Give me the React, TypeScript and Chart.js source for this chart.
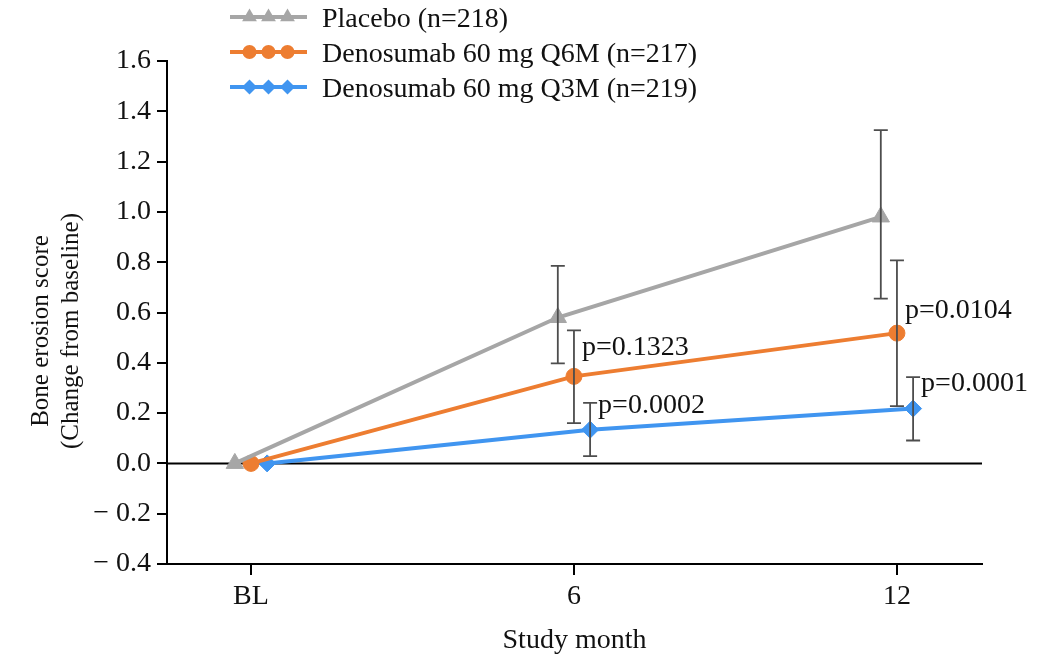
import React, { useEffect, useRef } from 'react';
import { Chart, registerables } from 'chart.js';
Chart.register(...registerables);

// ---- data ----
const months = [0, 6, 12];
const monthLabels = ['BL', '6', '12'];
const seriesNames = ['Placebo (n=218)', 'Denosumab 60 mg Q6M (n=217)', 'Denosumab 60 mg Q3M (n=219)'];

const placeboMean = [0, 0.58, 0.98];
const placeboUpper = [null, 0.785, 1.325];
const placeboLower = [null, 0.398, 0.655];

const q6mMean = [0, 0.346, 0.518];
const q6mUpper = [null, 0.529, 0.807];
const q6mLower = [null, 0.16, 0.228];

const q3mMean = [0, 0.134, 0.218];
const q3mUpper = [null, 0.241, 0.343];
const q3mLower = [null, 0.029, 0.091];

const q6mPLabels = [null, 'p=0.1323', 'p=0.0104'];
const q6mPLabelY = [null, 0.461, 0.609];
const q3mPLabels = [null, 'p=0.0002', 'p=0.0001'];
const q3mPLabelY = [null, 0.231, 0.318];

const yTicks = [-0.4, -0.2, 0, 0.2, 0.4, 0.6, 0.8, 1.0, 1.2, 1.4, 1.6];
const yTitleLines = ['Bone erosion score', '(Change from baseline)'];
const xTitle = 'Study month';

// ---- style ----
const FONT = '"Liberation Serif", "Times New Roman", serif';
const GRAY = '#a6a6a6';
const ORANGE = '#ed7d31';
const BLUE = '#4095f0';
const ERR = '#4d4d4d';
const JITTER = 0.3; // horizontal dodge, in months

type Series = {
  name: string; color: string; style: any; radius: number; legendR: number; dodge: number;
  mean: number[]; upper: (number | null)[]; lower: (number | null)[];
  pLabels?: (string | null)[]; pY?: (number | null)[];
};

const series: Series[] = [
  { name: seriesNames[0], color: GRAY, style: 'triangle', radius: 10, legendR: 8.5, dodge: -JITTER, mean: placeboMean, upper: placeboUpper, lower: placeboLower },
  { name: seriesNames[1], color: ORANGE, style: 'circle', radius: 8, legendR: 7, dodge: 0, mean: q6mMean, upper: q6mUpper, lower: q6mLower, pLabels: q6mPLabels, pY: q6mPLabelY },
  { name: seriesNames[2], color: BLUE, style: 'rectRot', radius: 8.5, legendR: 7.5, dodge: JITTER, mean: q3mMean, upper: q3mUpper, lower: q3mLower, pLabels: q3mPLabels, pY: q3mPLabelY },
];

const zeroLinePlugin = {
  id: 'zeroLine',
  beforeDatasetsDraw(chart: any) {
    const { ctx, chartArea, scales } = chart;
    const y = scales.y.getPixelForValue(0);
    ctx.save();
    ctx.strokeStyle = '#000';
    ctx.lineWidth = 2;
    ctx.beginPath();
    ctx.moveTo(chartArea.left, y);
    ctx.lineTo(chartArea.right, y);
    ctx.stroke();
    ctx.restore();
  },
};

const errorBarPlugin = {
  id: 'errorBars',
  afterDatasetsDraw(chart: any) {
    const { ctx, scales } = chart;
    ctx.save();
    ctx.strokeStyle = ERR;
    ctx.lineWidth = 1.8;
    series.forEach((s) => {
      months.forEach((m, i) => {
        const up = s.upper[i];
        const lo = s.lower[i];
        if (up == null || lo == null) return;
        const x = scales.x.getPixelForValue(m + s.dodge);
        const yu = scales.y.getPixelForValue(up);
        const yl = scales.y.getPixelForValue(lo);
        ctx.beginPath();
        ctx.moveTo(x, yu); ctx.lineTo(x, yl);
        ctx.moveTo(x - 7, yu); ctx.lineTo(x + 7, yu);
        ctx.moveTo(x - 7, yl); ctx.lineTo(x + 7, yl);
        ctx.stroke();
      });
    });
    // p-value labels
    ctx.fillStyle = '#111';
    ctx.font = `28px ${FONT}`;
    ctx.textAlign = 'left';
    ctx.textBaseline = 'middle';
    series.forEach((s) => {
      if (!s.pLabels || !s.pY) return;
      months.forEach((m, i) => {
        const t = s.pLabels![i];
        const py = s.pY![i];
        if (!t || py == null) return;
        const x = scales.x.getPixelForValue(m + s.dodge) + 8;
        ctx.fillText(t, x, scales.y.getPixelForValue(py));
      });
    });
    ctx.restore();
  },
};

const drawMarker = (ctx: any, style: string, x: number, y: number, r: number, color: string) => {
  ctx.fillStyle = color;
  ctx.beginPath();
  if (style === 'triangle') {
    ctx.moveTo(x, y - r);
    ctx.lineTo(x + r * 0.87, y + r * 0.5);
    ctx.lineTo(x - r * 0.87, y + r * 0.5);
    ctx.closePath();
  } else if (style === 'circle') {
    ctx.arc(x, y, r, 0, Math.PI * 2);
  } else {
    ctx.moveTo(x, y - r); ctx.lineTo(x + r, y); ctx.lineTo(x, y + r); ctx.lineTo(x - r, y);
    ctx.closePath();
  }
  ctx.fill();
};

const legendTitlePlugin = {
  id: 'legendTitles',
  afterDraw(chart: any) {
    const { ctx, chartArea } = chart;
    ctx.save();
    // legend
    const x0 = chartArea.left + 63;
    const x1 = chartArea.left + 140;
    const xc = (x0 + x1) / 2;
    series.forEach((s, k) => {
      const y = 17 + k * 35;
      ctx.strokeStyle = s.color;
      ctx.lineWidth = 4;
      ctx.beginPath();
      ctx.moveTo(x0, y); ctx.lineTo(x1, y);
      ctx.stroke();
      [-19, 0, 19].forEach((dx) => drawMarker(ctx, s.style, xc + dx, y, s.legendR, s.color));
      ctx.fillStyle = '#111';
      ctx.font = `28px ${FONT}`;
      ctx.textAlign = 'left';
      ctx.textBaseline = 'middle';
      ctx.fillText(s.name, chartArea.left + 155, y + 3);
    });
    // y title
    ctx.translate(0, 331);
    ctx.rotate(-Math.PI / 2);
    ctx.font = `25px ${FONT}`;
    ctx.textAlign = 'center';
    ctx.textBaseline = 'middle';
    ctx.fillStyle = '#111';
    ctx.fillText(yTitleLines[0], 0, 41);
    ctx.fillText(yTitleLines[1], 0, 71);
    ctx.restore();
  },
};

export default function App() {
  const ref = useRef<HTMLCanvasElement>(null);
  useEffect(() => {
    if (!ref.current) return;
    const chart = new Chart(ref.current, {
      type: 'line',
      data: {
        datasets: series.map((s) => ({
          label: s.name,
          data: months.map((m, i) => ({ x: m + s.dodge, y: s.mean[i] })),
          borderColor: s.color,
          backgroundColor: s.color,
          borderWidth: 4,
          pointStyle: s.style,
          pointRadius: s.radius,
          pointBorderWidth: 1,
          pointBorderColor: s.color,
          pointBackgroundColor: s.color,
          tension: 0,
        })),
      },
      options: {
        responsive: false,
        animation: false,
        layout: { padding: { left: 0, top: 61, right: 76, bottom: 0 } },
        plugins: { legend: { display: false }, tooltip: { enabled: false } },
        scales: {
          x: {
            type: 'linear',
            min: -1.56,
            max: 13.58,
            afterBuildTicks: (scale: any) => { scale.ticks = months.map((v) => ({ value: v })); },
            afterFit: (scale: any) => { scale.height = 96; },
            ticks: {
              callback: (v: any) => monthLabels[months.indexOf(Number(v))] ?? '',
              font: { family: FONT, size: 28 },
              color: '#111',
              padding: 5,
              maxRotation: 0,
            },
            grid: { display: true, drawOnChartArea: false, drawTicks: true, tickLength: 11, color: '#000', lineWidth: 2 },
            border: { display: true, color: '#000', width: 2 },
            title: { display: true, text: xTitle, font: { family: FONT, size: 28, lineHeight: 1.2 }, color: '#111', padding: { top: 0, bottom: 3 } },
          },
          y: {
            type: 'linear',
            min: -0.4,
            max: 1.6,
            afterBuildTicks: (scale: any) => { scale.ticks = yTicks.map((v) => ({ value: v })); },
            afterFit: (scale: any) => { scale.width = 167; },
            ticks: {
              callback: (v: any) => {
                const n = Number(v);
                return n < 0 ? '\u2212 ' + Math.abs(n).toFixed(1) : n.toFixed(1);
              },
              font: { family: FONT, size: 28 },
              color: '#111',
              padding: 6,
            },
            grid: { display: true, drawOnChartArea: false, drawTicks: true, tickLength: 10, color: '#000', lineWidth: 2 },
            border: { display: true, color: '#000', width: 2 },
          },
        },
      },
      plugins: [zeroLinePlugin, errorBarPlugin, legendTitlePlugin],
    } as any);
    return () => chart.destroy();
  }, []);
  return (
    <canvas
      ref={ref}
      width={1058}
      height={660}
      style={{ position: 'fixed', left: 0, top: 0, display: 'block', background: '#fff' }}
    />
  );
}
